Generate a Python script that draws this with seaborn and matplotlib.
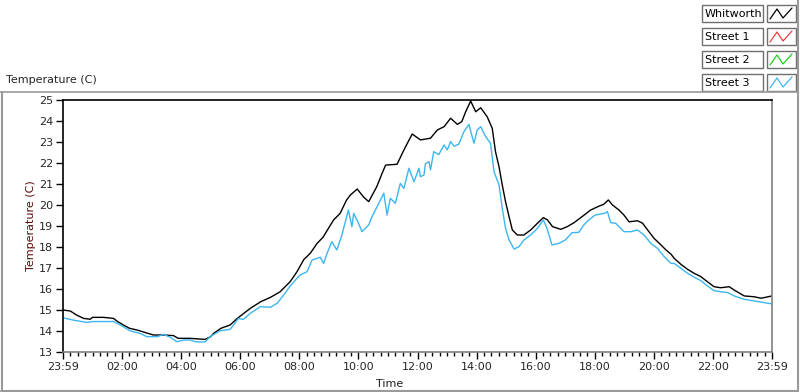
import pandas as pd
import matplotlib
matplotlib.use('Agg')
import matplotlib.pyplot as plt
import seaborn as sns
from matplotlib.patches import Rectangle
from matplotlib.ticker import MultipleLocator

# readings taken off the chart (hours since 23:59, deg C)
hours_whitworth = [0.0, 0.25, 0.46, 0.7, 0.92, 1.0, 1.37, 1.71, 1.85, 2.04, 2.25, 2.5, 2.8, 3.06, 3.4,
                   3.74, 3.9, 4.3, 4.81, 5.0, 5.1, 5.35, 5.66, 5.9, 6.34, 6.7, 7.02, 7.35, 7.69, 7.92,
                   8.15, 8.37, 8.6, 8.8, 9.16, 9.38, 9.6, 9.73, 9.96, 10.18, 10.35, 10.62, 10.8, 10.92,
                   11.31, 11.54, 11.82, 12.1, 12.44, 12.67, 12.9, 13.12, 13.35, 13.5, 13.63, 13.8,
                   13.97, 14.14, 14.36, 14.53, 14.64, 14.76, 14.87, 14.98, 15.1, 15.21, 15.38, 15.6,
                   15.83, 16.06, 16.26, 16.4, 16.57, 16.85, 17.07, 17.3, 17.64, 17.86, 18.15, 18.3,
                   18.46, 18.6, 18.82, 18.99, 19.16, 19.45, 19.62, 19.79, 20.01, 20.24, 20.41, 20.58,
                   20.69, 20.92, 21.14, 21.36, 21.59, 21.81, 22.04, 22.26, 22.55, 22.72, 23.06, 23.4,
                   23.63, 24.0]
temp_whitworth = [15.0, 14.95, 14.76, 14.6, 14.56, 14.65, 14.65, 14.6, 14.45, 14.29, 14.13, 14.05, 13.92,
                  13.81, 13.81, 13.78, 13.65, 13.65, 13.6, 13.73, 13.89, 14.13, 14.29, 14.6, 15.08,
                  15.4, 15.6, 15.87, 16.35, 16.82, 17.4, 17.7, 18.17, 18.46, 19.29, 19.6, 20.24, 20.48,
                  20.76, 20.37, 20.16, 20.87, 21.5, 21.9, 21.94, 22.62, 23.38, 23.1, 23.18, 23.57,
                  23.73, 24.13, 23.84, 23.97, 24.44, 24.95, 24.44, 24.63, 24.2, 23.65, 22.54, 21.82,
                  20.95, 20.16, 19.44, 18.81, 18.57, 18.57, 18.81, 19.13, 19.4, 19.29, 18.97, 18.84,
                  18.97, 19.16, 19.52, 19.76, 19.95, 20.03, 20.24, 20.0, 19.76, 19.52, 19.2, 19.25,
                  19.13, 18.81, 18.41, 18.1, 17.86, 17.66, 17.46, 17.17, 16.94, 16.75, 16.59, 16.35,
                  16.11, 16.06, 16.11, 15.95, 15.67, 15.63, 15.56, 15.67]

hours_street3 = [0.0, 0.34, 0.8, 1.0, 1.71, 1.94, 2.27, 2.6, 2.84, 3.2, 3.4, 3.63, 3.85, 4.1, 4.3, 4.5,
                 4.81, 4.98, 5.32, 5.66, 5.94, 6.1, 6.34, 6.68, 7.02, 7.25, 7.47, 7.69, 7.92, 8.03,
                 8.26, 8.43, 8.71, 8.82, 8.94, 9.1, 9.27, 9.44, 9.66, 9.78, 9.84, 10.0, 10.12, 10.35,
                 10.46, 10.69, 10.86, 10.97, 11.08, 11.25, 11.42, 11.54, 11.71, 11.88, 12.05, 12.1,
                 12.22, 12.27, 12.39, 12.44, 12.55, 12.72, 12.9, 13.01, 13.12, 13.24, 13.4, 13.57,
                 13.74, 13.91, 14.02, 14.14, 14.31, 14.47, 14.59, 14.76, 14.87, 14.98, 15.1, 15.27,
                 15.44, 15.6, 15.83, 16.06, 16.26, 16.38, 16.55, 16.78, 17.0, 17.23, 17.46, 17.63,
                 17.8, 18.01, 18.32, 18.43, 18.54, 18.71, 18.99, 19.22, 19.45, 19.67, 19.9, 20.12,
                 20.35, 20.58, 20.69, 20.92, 21.14, 21.37, 21.59, 21.82, 22.04, 22.27, 22.5, 22.72,
                 23.06, 23.4, 23.74, 24.0]
temp_street3 = [14.63, 14.52, 14.41, 14.45, 14.45, 14.29, 14.01, 13.89, 13.73, 13.73, 13.84, 13.7, 13.49,
                13.57, 13.57, 13.48, 13.48, 13.73, 14.01, 14.08, 14.6, 14.55, 14.84, 15.16, 15.13,
                15.32, 15.71, 16.14, 16.51, 16.67, 16.82, 17.38, 17.51, 17.22, 17.7, 18.25, 17.86,
                18.57, 19.76, 18.97, 19.6, 19.14, 18.73, 19.05, 19.44, 20.08, 20.56, 19.52, 20.32,
                20.08, 21.03, 20.79, 21.75, 21.11, 21.75, 21.35, 21.43, 21.98, 22.06, 21.67, 22.54,
                22.4, 22.86, 22.62, 23.02, 22.8, 22.9, 23.49, 23.84, 22.94, 23.57, 23.73, 23.25,
                22.94, 21.59, 20.95, 19.84, 18.89, 18.33, 17.9, 18.02, 18.33, 18.57, 18.89, 19.29,
                18.9, 18.1, 18.17, 18.33, 18.68, 18.7, 19.05, 19.29, 19.52, 19.6, 19.68, 19.16,
                19.13, 18.73, 18.73, 18.81, 18.57, 18.17, 17.94, 17.54, 17.22, 17.22, 16.98, 16.75,
                16.56, 16.4, 16.14, 15.92, 15.87, 15.83, 15.67, 15.51, 15.43, 15.35, 15.29]

legend_names = ['Whitworth', 'Street 1', 'Street 2', 'Street 3']
legend_colors = ['#000000', '#f03c3c', '#1ed21e', '#3cb6f0']
tick_hours = list(range(0, 25, 2))
tick_labels = ['23:59', '02:00', '04:00', '06:00', '08:00', '10:00', '12:00',
               '14:00', '16:00', '18:00', '20:00', '22:00', '23:59']
y_ticks = list(range(13, 26))

df = pd.concat([
    pd.DataFrame({'hours': hours_whitworth, 'temp': temp_whitworth, 'series': 'Whitworth'}),
    pd.DataFrame({'hours': hours_street3, 'temp': temp_street3, 'series': 'Street 3'}),
])

sns.set_style('white')
plt.rcParams['font.family'] = ['DejaVu Sans']

W, H = 800, 392
fig = plt.figure(figsize=(W / 100, H / 100), dpi=100)

# main plot area
ax = fig.add_axes([63 / W, 1 - 352 / H, (772 - 63) / W, (352 - 100) / H])
sns.lineplot(data=df, x='hours', y='temp', hue='series', sort=False, estimator=None,
             palette={'Whitworth': legend_colors[0], 'Street 3': legend_colors[3]},
             hue_order=['Whitworth', 'Street 3'], legend=False, lw=1.0, ax=ax)
ax.set_xlim(0, 24)
ax.set_ylim(13, 25)
ax.set_xticks(tick_hours)
ax.set_xticklabels(tick_labels)
ax.xaxis.set_minor_locator(MultipleLocator(0.25))
ax.set_yticks(y_ticks)
ax.set_xlabel('')
ax.set_ylabel('')
ax.tick_params(axis='both', which='major', direction='out', length=5, width=1,
               color='black', labelsize=8, pad=2)
ax.tick_params(axis='x', which='minor', direction='out', length=3, width=1, color='black')
ax.tick_params(axis='x', which='both', bottom=True)
ax.tick_params(axis='y', which='both', left=True)
for side in ['top', 'left']:
    ax.spines[side].set_color('black')
    ax.spines[side].set_linewidth(1.2)
for side in ['bottom', 'right']:
    ax.spines[side].set_color('#808080')
    ax.spines[side].set_linewidth(1.2)

# frame + legend overlay in pixel coordinates
ov = fig.add_axes([0, 0, 1, 1])
ov.set_xlim(0, W)
ov.set_ylim(H, 0)
ov.axis('off')
grey = '#9a9a9a'
ov.plot([0, 797.5], [92, 92], color=grey, lw=1.2)
ov.plot([1.5, 1.5], [92, 391], color=grey, lw=1.5)
ov.plot([1, 797.5], [390.5, 390.5], color=grey, lw=1.5)
ov.plot([797.5, 797.5], [0, 391], color=grey, lw=1.5)

row_tops = [5, 28, 51, 74]
for name, color, top in zip(legend_names, legend_colors, row_tops):
    ov.add_patch(Rectangle((702, top), 61, 17, facecolor='white', edgecolor='#707070', lw=1))
    ov.add_patch(Rectangle((767, top), 29, 17, facecolor='white', edgecolor='#707070', lw=1))
    ov.text(705, top + 8.5, name, fontsize=8, ha='left', va='center', color='black')
    ov.plot([770, 777, 783, 792], [top + 14, top + 4, top + 13, top + 3], color=color, lw=0.9)

fig.text(6 / W, 1 - 80 / H, 'Temperature (C)', fontsize=8, ha='left', va='center')
fig.text(31 / W, 1 - 226 / H, 'Temperature (C)', fontsize=8, ha='center', va='center',
         rotation=90, color='#5a0a0a')
fig.text(390 / W, 1 - 384 / H, 'Time', fontsize=8, ha='center', va='center', color='#202020')

fig.savefig('out.png', dpi=100)
